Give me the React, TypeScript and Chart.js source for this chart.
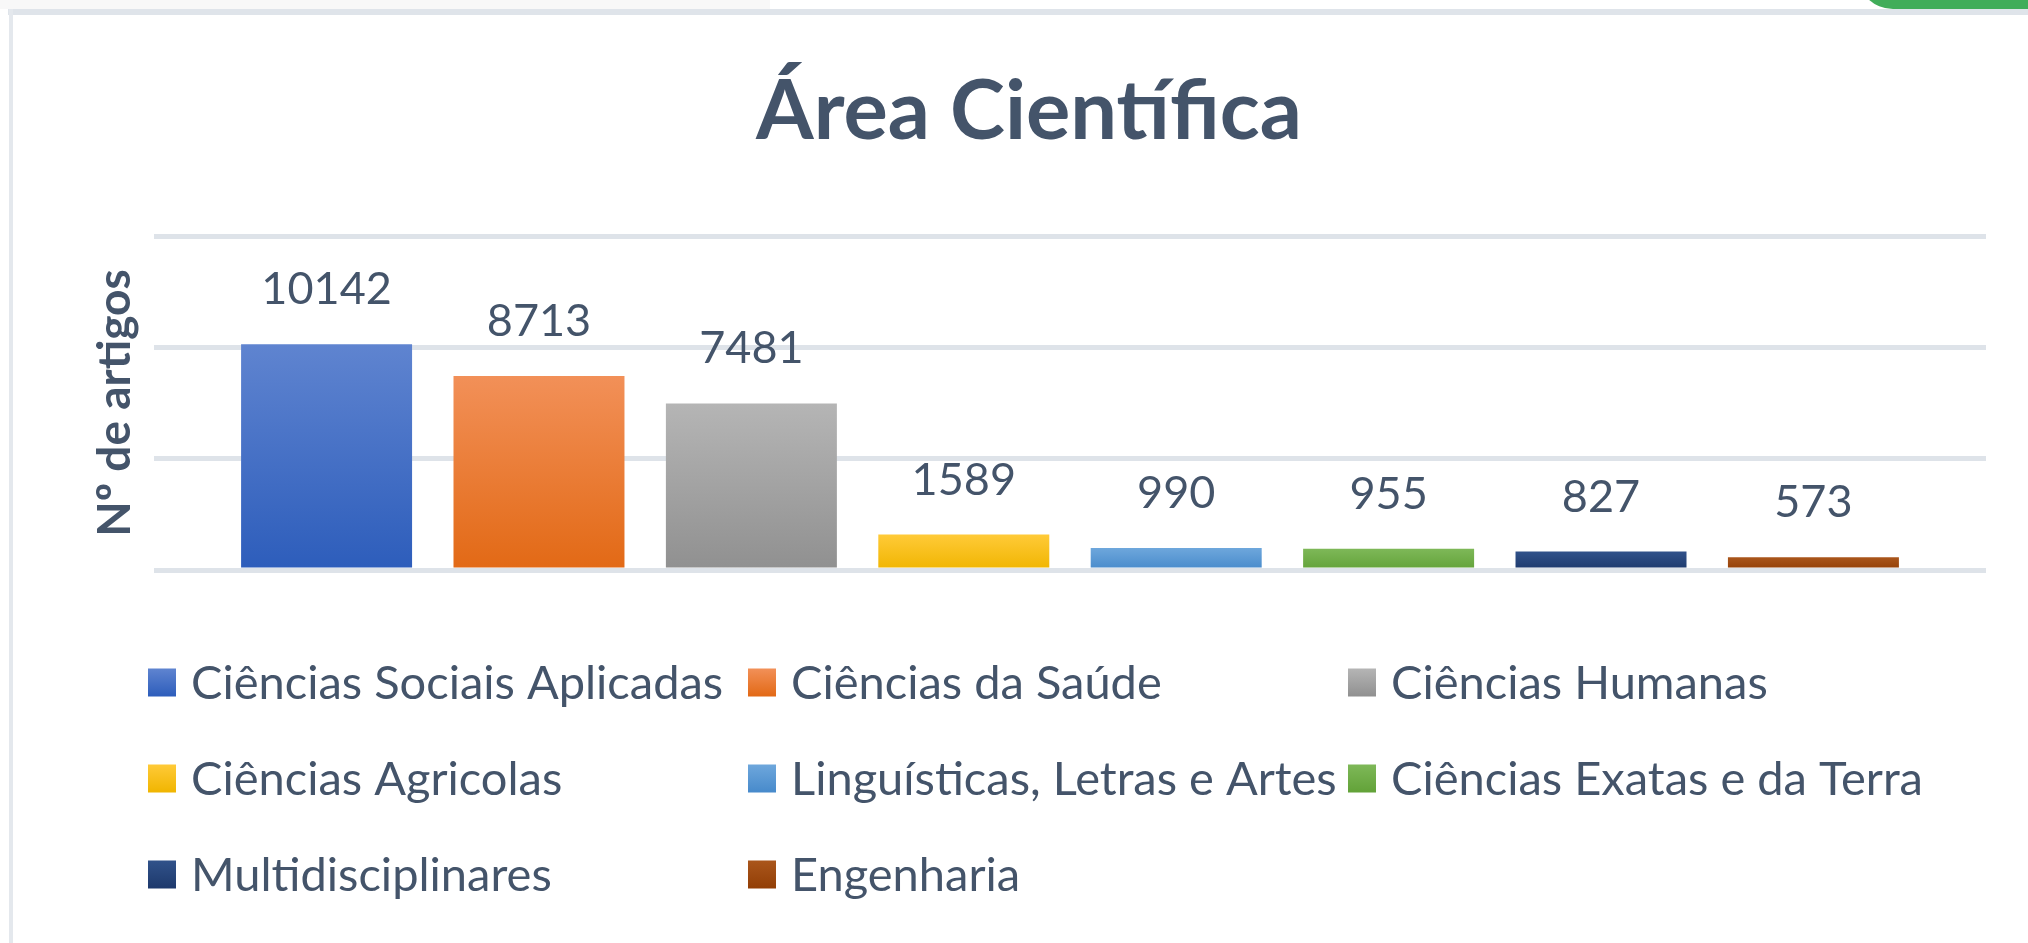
import React, { useEffect, useRef } from 'react';
import { Chart, registerables } from 'chart.js';

Chart.register(...registerables);

// ---- data ----
const chartTitle = 'Área Científica';
const yAxisTitle = 'Nº de artigos';
const categories = [
  'Ciências Sociais Aplicadas',
  'Ciências da Saúde',
  'Ciências Humanas',
  'Ciências Agricolas',
  'Linguísticas, Letras e Artes',
  'Ciências Exatas e da Terra',
  'Multidisciplinares',
  'Engenharia',
];
const values = [10142, 8713, 7481, 1589, 990, 955, 827, 573];
const yMin = 0;
const yMax = 15000;
const yStep = 5000;

// ---- styles ----
const topColors = ['#5F84D0', '#F29058', '#B5B5B5', '#FFCA38', '#6EA7DC', '#7EB858', '#31528A', '#AA561C'];
const bottomColors = ['#2D5DBB', '#E26915', '#909090', '#F0B500', '#478ACB', '#62A238', '#1D396C', '#923E05'];
const TEXT = '#44546A';
const FONT = 'Lato, "Open Sans", sans-serif';
const LABEL_SIZE = 45;
const LEGEND_SIZE = 47;
const CAP = 0.7165;

const gradientFor = (ctx: CanvasRenderingContext2D, i: number, top: number, bottom: number) => {
  const g = ctx.createLinearGradient(0, top, 0, bottom);
  g.addColorStop(0, topColors[i]);
  g.addColorStop(1, bottomColors[i]);
  return g;
};

const dataLabelPlugin = {
  id: 'dataLabels',
  afterDatasetsDraw(chart: any) {
    const ctx = chart.ctx as CanvasRenderingContext2D;
    const meta = chart.getDatasetMeta(0);
    ctx.save();
    ctx.font = `${LABEL_SIZE}px ${FONT}`;
    ctx.fillStyle = TEXT;
    ctx.textAlign = 'center';
    ctx.textBaseline = 'alphabetic';
    meta.data.forEach((bar: any, i: number) => {
      ctx.fillText(String(values[i]), bar.x, bar.y - 40);
    });
    ctx.restore();
  },
};

const legendPlugin = {
  id: 'gridLegend',
  afterDraw(chart: any) {
    const ctx = chart.ctx as CanvasRenderingContext2D;
    const x0 = 148;
    const colW = 600;
    const y0 = 682.5;
    const rowH = 96;
    const box = 28;
    ctx.save();
    ctx.font = `${LEGEND_SIZE}px ${FONT}`;
    ctx.textAlign = 'left';
    ctx.textBaseline = 'alphabetic';
    categories.forEach((label, i) => {
      const col = i % 3;
      const row = Math.floor(i / 3);
      const x = x0 + col * colW;
      const yc = y0 + row * rowH;
      ctx.fillStyle = gradientFor(ctx, i, yc - box / 2, yc + box / 2);
      ctx.fillRect(x, yc - box / 2, box, box);
      ctx.fillStyle = TEXT;
      ctx.fillText(label, x + box + 15, yc + (CAP * LEGEND_SIZE) / 2);
    });
    ctx.restore();
  },
};

export default function App() {
  const canvasRef = useRef<HTMLCanvasElement | null>(null);

  useEffect(() => {
    const canvas = canvasRef.current;
    if (!canvas) return;
    const chart = new Chart(canvas, {
      type: 'bar',
      data: {
        datasets: [
          {
            label: yAxisTitle,
            data: values.map((v, i) => ({ x: i, y: v })),
            backgroundColor: (c: any) => {
              const i = c.dataIndex ?? 0;
              const ch = c.chart;
              const ys = ch.scales && ch.scales.y;
              if (c.type !== 'data' || !ch.chartArea || !ys) return topColors[i];
              return gradientFor(ch.ctx, i, ys.getPixelForValue(values[i]), ys.getPixelForValue(0));
            },
            borderWidth: 0,
            categoryPercentage: 1,
            barPercentage: 0.805,
          },
        ],
      },
      options: {
        responsive: false,
        maintainAspectRatio: false,
        devicePixelRatio: 1,
        animation: false,
        layout: { padding: { left: 72, right: 42, top: 0, bottom: 373 } },
        plugins: {
          legend: { display: false },
          tooltip: { enabled: false },
          title: {
            display: true,
            text: chartTitle,
            color: TEXT,
            font: { family: FONT, size: 83, weight: 'bold', lineHeight: 1 },
            padding: { top: 71, bottom: 82 },
          },
        },
        scales: {
          x: {
            type: 'linear',
            display: false,
            offset: false,
            min: -0.8125,
            max: 7.8125,
            ticks: { stepSize: 1, includeBounds: false },
            grid: { display: false, offset: false },
          },
          y: {
            type: 'linear',
            min: yMin,
            max: yMax,
            ticks: { display: false, stepSize: yStep },
            grid: { color: '#DEE3E9', lineWidth: 5, drawTicks: false },
            border: { display: false },
            title: {
              display: true,
              text: yAxisTitle,
              color: TEXT,
              font: { family: FONT, size: 46, weight: 'bold', lineHeight: 1.2 },
              padding: { top: 15.4, bottom: 11.4 },
            },
          },
        },
      },
      plugins: [dataLabelPlugin, legendPlugin],
    } as any);
    return () => chart.destroy();
  }, []);

  return (
    <div
      style={{
        position: 'fixed',
        left: 0,
        top: 0,
        width: 2028,
        height: 943,
        background: '#FFFFFF',
        overflow: 'hidden',
      }}
    >
      <div style={{ position: 'absolute', left: 0, top: 0, width: 770, height: 9, background: '#F8F8F8' }} />
      <div
        style={{
          position: 'absolute',
          left: 1857,
          top: -30,
          width: 220,
          height: 39,
          background: '#41AD5A',
          borderBottomLeftRadius: 36,
        }}
      />
      <div style={{ position: 'absolute', left: 8, top: 9, width: 2020, height: 6, background: '#DFE4EA' }} />
      <div style={{ position: 'absolute', left: 9, top: 9, width: 4, height: 934, background: '#E4E8ED' }} />
      <canvas
        ref={canvasRef}
        width={2028}
        height={943}
        style={{ position: 'absolute', left: 0, top: 0, width: 2028, height: 943, display: 'block' }}
      />
    </div>
  );
}
